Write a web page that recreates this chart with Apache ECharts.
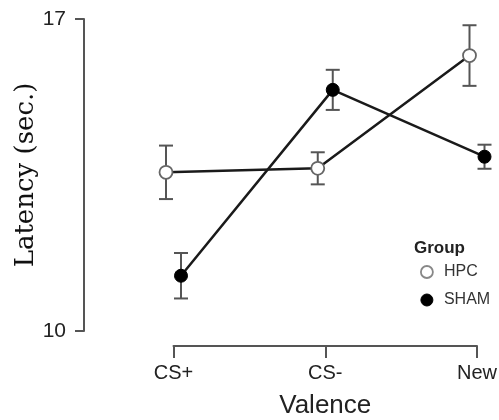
<!DOCTYPE html>
<html>
<head>
<meta charset="utf-8">
<script src="https://cdn.jsdelivr.net/npm/echarts@6/dist/echarts.min.js"></script>
<style>html,body{margin:0;padding:0;background:#fff;}#c{width:499px;height:420px;}</style>
</head>
<body>
<div id="c"></div>
<script>
const categories = ['CS+', 'CS-', 'New'];
const hpcMean = [13.56, 13.65, 16.18];
const hpcSE = [0.6, 0.36, 0.68];
const shamMean = [11.24, 15.41, 13.91];
const shamSE = [0.51, 0.45, 0.27];
const yTicks = [10, 17];

const font = '"Liberation Sans", Arial, sans-serif';
const axisColor = '#555';

function errData(mean, se) {
  return mean.map((m, i) => [i, m - se[i], m + se[i]]);
}
function errorBarRender(params, api) {
  const idx = api.value(0);
  const lo = api.coord([idx, api.value(1)]);
  const hi = api.coord([idx, api.value(2)]);
  const hw = 7;
  const style = { stroke: '#555', lineWidth: 2 };
  return {
    type: 'group',
    children: [
      { type: 'line', shape: { x1: lo[0], y1: lo[1], x2: hi[0], y2: hi[1] }, style },
      { type: 'line', shape: { x1: lo[0] - hw, y1: lo[1], x2: lo[0] + hw, y2: lo[1] }, style },
      { type: 'line', shape: { x1: hi[0] - hw, y1: hi[1], x2: hi[0] + hw, y2: hi[1] }, style }
    ]
  };
}

const yBase = { type: 'value', min: yTicks[0], max: yTicks[1], interval: yTicks[1] - yTicks[0] };
const hiddenY = Object.assign({}, yBase, { show: false, splitLine: { show: false } });
const hiddenX = { type: 'category', data: categories, boundaryGap: false, show: false };

const chart = echarts.init(document.getElementById('c'));
chart.setOption({
  animation: false,
  backgroundColor: '#fff',
  title: {
    text: 'Group', left: 414, top: 240, padding: 0,
    textStyle: { fontFamily: font, fontSize: 17, fontWeight: 'bold', color: '#222' }
  },
  legend: {
    orient: 'vertical', left: 420, top: 264, itemWidth: 12, itemHeight: 12, itemGap: 12,
    icon: 'circle', padding: 0,
    data: [
      { name: 'HPC', itemStyle: { color: '#fff', borderColor: '#888', borderWidth: 1.8 } },
      { name: 'SHAM', itemStyle: { color: '#000', borderColor: '#000', borderWidth: 1 } }
    ],
    textStyle: { fontFamily: font, fontSize: 16, color: '#333', padding: [0, 0, 0, 6] }
  },
  grid: [
    { left: 173.5, right: 22, top: 19, bottom: 89, outerBoundsMode: 'none', containLabel: false },
    { left: 166, right: 29.5, top: 19, bottom: 89, outerBoundsMode: 'none', containLabel: false },
    { left: 181, right: 14.5, top: 19, bottom: 89, outerBoundsMode: 'none', containLabel: false }
  ],
  xAxis: [
    {
      gridIndex: 0, type: 'category', data: categories, boundaryGap: false, offset: 15,
      axisLine: { show: true, lineStyle: { color: axisColor, width: 2 } },
      axisTick: { show: true, length: 12, lineStyle: { color: axisColor, width: 2 } },
      axisLabel: { fontFamily: font, fontSize: 20, color: '#222', margin: 17 },
      name: 'Valence', nameLocation: 'middle', nameGap: 47, nameMoveOverlap: false,
      nameTextStyle: { fontFamily: font, fontSize: 26, color: '#222' },
      splitLine: { show: false }
    },
    Object.assign({ gridIndex: 1 }, hiddenX),
    Object.assign({ gridIndex: 2 }, hiddenX)
  ],
  yAxis: [
    Object.assign({
      gridIndex: 0, offset: 89.5,
      axisLine: { show: true, lineStyle: { color: axisColor, width: 2 } },
      axisTick: { show: true, length: 9, lineStyle: { color: axisColor, width: 2 } },
      axisLabel: { fontFamily: font, fontSize: 21, color: '#222', margin: 18 },
      splitLine: { show: false },
      name: 'Latency (sec.)', nameLocation: 'middle', nameGap: 45, nameMoveOverlap: false,
      nameTextStyle: { fontFamily: '"DejaVu Serif", "Liberation Serif", serif', fontSize: 26, color: '#111' }
    }, yBase),
    Object.assign({ gridIndex: 1 }, hiddenY),
    Object.assign({ gridIndex: 2 }, hiddenY)
  ],
  series: [
    {
      name: 'HPC err', type: 'custom', xAxisIndex: 1, yAxisIndex: 1, clip: false, z: 1,
      renderItem: errorBarRender, data: errData(hpcMean, hpcSE)
    },
    {
      name: 'SHAM err', type: 'custom', xAxisIndex: 2, yAxisIndex: 2, clip: false, z: 1,
      renderItem: errorBarRender, data: errData(shamMean, shamSE)
    },
    {
      name: 'HPC', type: 'line', xAxisIndex: 1, yAxisIndex: 1, data: hpcMean, z: 3,
      symbol: 'circle', symbolSize: 13, showAllSymbol: true, clip: false,
      itemStyle: { color: '#fff', borderColor: '#666', borderWidth: 1.8 },
      lineStyle: { color: '#1a1a1a', width: 2.5 }
    },
    {
      name: 'SHAM', type: 'line', xAxisIndex: 2, yAxisIndex: 2, data: shamMean, z: 3,
      symbol: 'circle', symbolSize: 13, showAllSymbol: true, clip: false,
      itemStyle: { color: '#000', borderColor: '#000', borderWidth: 1 },
      lineStyle: { color: '#1a1a1a', width: 2.5 }
    }
  ]
});
</script>
</body>
</html>
